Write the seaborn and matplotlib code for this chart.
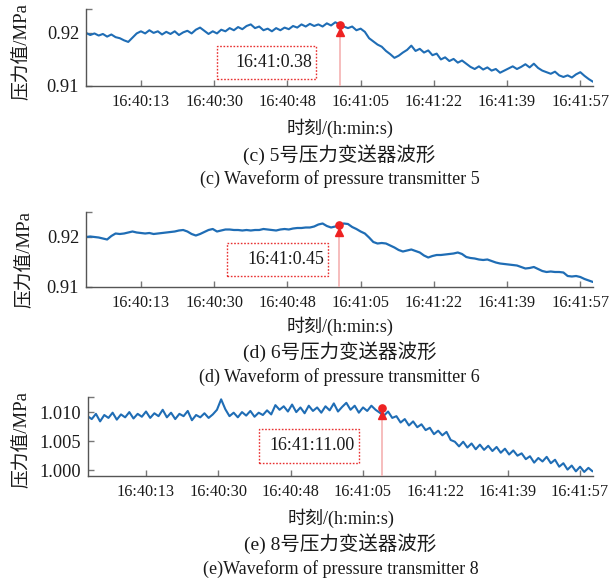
import matplotlib
matplotlib.use("Agg")
import matplotlib.pyplot as plt
from matplotlib.patches import Rectangle
import seaborn as sns
import pandas as pd

# ---------------- data ----------------
# seconds after 16:40:00, 1 s sampling
p5_values = [
    0.9200, 0.9196, 0.9199, 0.9195, 0.9198, 0.9193, 0.9197, 0.9192, 0.9190, 0.9186,
    0.9183, 0.9191, 0.9199, 0.9203, 0.9199, 0.9205, 0.9200, 0.9203, 0.9197, 0.9202,
    0.9198, 0.9203, 0.9196, 0.9201, 0.9204, 0.9199, 0.9206, 0.9210, 0.9204, 0.9198,
    0.9203, 0.9199, 0.9206, 0.9203, 0.9209, 0.9205, 0.9211, 0.9207, 0.9213, 0.9216,
    0.9209, 0.9212, 0.9205, 0.9208, 0.9203, 0.9209, 0.9205, 0.9210, 0.9207, 0.9213,
    0.9210, 0.9216, 0.9212, 0.9217, 0.9213, 0.9216, 0.9212, 0.9218, 0.9214, 0.9220,
    0.9216, 0.9212, 0.9209, 0.9212, 0.9205, 0.9208, 0.9202, 0.9190, 0.9184, 0.9178,
    0.9174, 0.9166, 0.9160, 0.9153, 0.9157, 0.9163, 0.9168, 0.9176, 0.9166, 0.9170,
    0.9163, 0.9167, 0.9158, 0.9161, 0.9150, 0.9154, 0.9147, 0.9151, 0.9144, 0.9148,
    0.9142, 0.9136, 0.9132, 0.9137, 0.9131, 0.9135, 0.9129, 0.9132, 0.9125, 0.9129,
    0.9133, 0.9137, 0.9132, 0.9136, 0.9141, 0.9135, 0.9142, 0.9134, 0.9129, 0.9126,
    0.9123, 0.9127, 0.9120, 0.9117, 0.9120, 0.9116, 0.9122, 0.9126, 0.9119, 0.9113,
    0.9108,
]
p6_values = [
    0.9200, 0.9201, 0.9200, 0.9199, 0.9197, 0.9195, 0.9202, 0.9207, 0.9206, 0.9207,
    0.9209, 0.9211, 0.9209, 0.9208, 0.9207, 0.9208, 0.9206, 0.9207, 0.9208, 0.9209,
    0.9210, 0.9211, 0.9213, 0.9214, 0.9211, 0.9206, 0.9203, 0.9206, 0.9210, 0.9214,
    0.9216, 0.9211, 0.9213, 0.9215, 0.9215, 0.9214, 0.9214, 0.9213, 0.9214, 0.9213,
    0.9214, 0.9214, 0.9216, 0.9215, 0.9214, 0.9213, 0.9215, 0.9216, 0.9215, 0.9217,
    0.9218, 0.9218, 0.9219, 0.9219, 0.9221, 0.9225, 0.9227, 0.9222, 0.9219, 0.9221,
    0.9224, 0.9227, 0.9226, 0.9220, 0.9216, 0.9211, 0.9207, 0.9199, 0.9190, 0.9187,
    0.9188, 0.9187, 0.9183, 0.9179, 0.9174, 0.9171, 0.9173, 0.9175, 0.9172, 0.9169,
    0.9163, 0.9159, 0.9162, 0.9164, 0.9164, 0.9165, 0.9166, 0.9167, 0.9169, 0.9166,
    0.9160, 0.9158, 0.9157, 0.9155, 0.9154, 0.9155, 0.9152, 0.9149, 0.9147, 0.9146,
    0.9145, 0.9144, 0.9143, 0.9140, 0.9137, 0.9138, 0.9140, 0.9136, 0.9132, 0.9130,
    0.9131, 0.9130, 0.9130, 0.9129, 0.9122, 0.9121, 0.9122, 0.9120, 0.9116, 0.9113,
    0.9110,
]
# starts at -1 s
p8_values = [
    1.0093,
    1.0088, 1.0097, 1.0084, 1.0095, 1.0090, 1.0099, 1.0087, 1.0096, 1.0091, 1.0100,
    1.0089, 1.0097, 1.0092, 1.0101, 1.0090, 1.0098, 1.0093, 1.0104, 1.0091, 1.0099,
    1.0088, 1.0097, 1.0093, 1.0102, 1.0086, 1.0095, 1.0091, 1.0098, 1.0090, 1.0096,
    1.0104, 1.0122, 1.0105, 1.0093, 1.0099, 1.0091, 1.0100, 1.0094, 1.0102, 1.0092,
    1.0099, 1.0095, 1.0103, 1.0096, 1.0112, 1.0104, 1.0110, 1.0101, 1.0113, 1.0100,
    1.0108, 1.0098, 1.0111, 1.0102, 1.0108, 1.0099, 1.0110, 1.0103, 1.0115, 1.0101,
    1.0109, 1.0116, 1.0104, 1.0111, 1.0099, 1.0108, 1.0102, 1.0111, 1.0104, 1.0099,
    1.0094, 1.0101, 1.0090, 1.0093, 1.0082, 1.0088, 1.0077, 1.0084, 1.0074, 1.0079,
    1.0069, 1.0073, 1.0062, 1.0068, 1.0060, 1.0066, 1.0052, 1.0049, 1.0041, 1.0049,
    1.0039, 1.0046, 1.0036, 1.0044, 1.0035, 1.0042, 1.0033, 1.0040, 1.0030, 1.0037,
    1.0027, 1.0034, 1.0025, 1.0029, 1.0019, 1.0024, 1.0013, 1.0021, 1.0015, 1.0023,
    1.0012, 1.0018, 1.0006, 1.0012, 1.0001, 1.0008, 0.9998, 1.0006, 0.9997, 1.0004,
    0.9998,
]
p5_start, p6_start, p8_start = 0, 0, -1

tick_labels = ["16:40:13", "16:40:30", "16:40:48", "16:41:05", "16:41:22", "16:41:39", "16:41:57"]
tick_pos = [13.0, 30.33, 47.67, 65.0, 82.33, 99.67, 117.0]

mark_t = [60.1, 59.9, 69.6]
mark_circle = [0.92151, 0.9224, 1.0107]
mark_tri = [0.92019, 0.9210, 1.00948]
mark_base = [0.91943, 0.9202, 1.00879]
mark_text = ["16:41:0.38", "16:41:0.45", "16:41:11.00"]

ylims = [(0.91, 0.9245), (0.91, 0.925), (0.9990, 1.0126)]
yticks = [[0.91, 0.92], [0.91, 0.92], [1.000, 1.005, 1.010]]
ytick_labels = [["0.91", "0.92"], ["0.91", "0.92"], ["1.000", "1.005", "1.010"]]
xlims = [(0, 120), (0, 120), (-0.9, 120.1)]

captions_cn = ["(c) 5号压力变送器波形", "(d) 6号压力变送器波形", "(e) 8号压力变送器波形"]
captions_en = ["(c) Waveform of pressure transmitter 5",
               "(d) Waveform of pressure transmitter 6",
               "(e)Waveform of pressure transmitter 8"]
ylabel = "压力值/MPa"
xlabel = "时刻/(h:min:s)"

# ---------------- style ----------------
sns.set_style("ticks")
plt.rcParams["font.family"] = ["Liberation Serif", "Noto Sans CJK SC", "DejaVu Sans"]
plt.rcParams["axes.unicode_minus"] = False

W, H = 616, 584
fig = plt.figure(figsize=(W / 100, H / 100), dpi=100)

# axes boxes in pixels: left, right, top, bottom
boxes = [(86, 593, 9, 86), (86, 593, 212, 287), (88, 593, 397, 476)]
# annotation boxes in pixels: x0, x1, y_top, y_bottom
ann_boxes = [(217, 316, 46, 79), (227, 328, 243, 276), (259, 359, 429, 463)]
ylabel_pos = [(22, 52), (25, 260), (22, 440)]
text_rows = [(104, 128, 155, 179), (302, 326, 352, 377), (494, 518, 544, 569)]
line_widths = [1.5, 1.6, 1.5]

LINE = "#1f6db5"
series = [(p5_start, p5_values), (p6_start, p6_values), (p8_start, p8_values)]

for i in range(3):
    l, r, t, b = boxes[i]
    ax = fig.add_axes([l / W, 1 - b / H, (r - l) / W, (b - t) / H])
    start, vals = series[i]
    df = pd.DataFrame({"t": [start + k for k in range(len(vals))], "v": vals})
    sns.lineplot(data=df, x="t", y="v", ax=ax, color=LINE, linewidth=line_widths[i])

    ax.set_xlim(*xlims[i])
    ax.set_ylim(*ylims[i])
    ax.set_xticks(tick_pos)
    ax.set_xticklabels(tick_labels, fontsize=11.7)
    yt = yticks[i] + [ylims[i][1]]
    ax.set_yticks(yt)
    ax.set_yticklabels(ytick_labels[i] + [""], fontsize=13.2)
    ax.set_xlabel("")
    ax.set_ylabel("")
    for s in ["top", "right"]:
        ax.spines[s].set_visible(False)
    for s in ["left", "bottom"]:
        ax.spines[s].set_color("#555555")
        ax.spines[s].set_linewidth(1.0)
    ax.tick_params(axis="both", direction="in", length=4, width=1, color="#777777",
                   labelcolor="#1a1a1a")
    ax.tick_params(axis="x", pad=6)
    ax.tick_params(axis="y", pad=5)

    # event marker
    ax.vlines(mark_t[i], ylims[i][0], mark_base[i], color="#f6b8b8", linewidth=1.3, zorder=3)
    ax.plot([mark_t[i]], [mark_tri[i]], marker="^", markersize=6, color="#ee2222",
            linestyle="none", zorder=4)
    ax.plot([mark_t[i]], [mark_circle[i]], marker="o", markersize=5.2, color="#ee2222",
            linestyle="none", zorder=5)

    # dotted annotation box
    x0, x1, yt_, yb_ = ann_boxes[i]
    fx0 = (x0 - l) / (r - l)
    fx1 = (x1 - l) / (r - l)
    fy0 = (b - yb_) / (b - t)
    fy1 = (b - yt_) / (b - t)
    ax.add_patch(Rectangle((fx0, fy0), fx1 - fx0, fy1 - fy0, transform=ax.transAxes,
                           fill=False, edgecolor="#e83030", linestyle=(0, (1.2, 1.2)),
                           linewidth=1.0, clip_on=False, zorder=5))
    ax.text(fx1 - 4 / (r - l), (fy0 + fy1) / 2, mark_text[i], transform=ax.transAxes,
            ha="right", va="center", fontsize=12.9, color="#1a1a1a")

    # labels & captions
    cx = (l + r) / 2 / W
    yx, yy = ylabel_pos[i]
    fig.text(yx / W, 1 - yy / H, ylabel, rotation=90, ha="center", va="center",
             fontsize=13.5, color="#1a1a1a")
    _, xl_y, cn_y, en_y = text_rows[i]
    fig.text(cx, 1 - xl_y / H, xlabel, ha="center", va="center", fontsize=13, color="#1a1a1a")
    fig.text(cx, 1 - cn_y / H, captions_cn[i], ha="center", va="center", fontsize=14,
             color="#1a1a1a")
    fig.text(cx, 1 - en_y / H, captions_en[i], ha="center", va="center", fontsize=13,
             color="#1a1a1a")

fig.savefig("out.png", dpi=100, facecolor="white")
